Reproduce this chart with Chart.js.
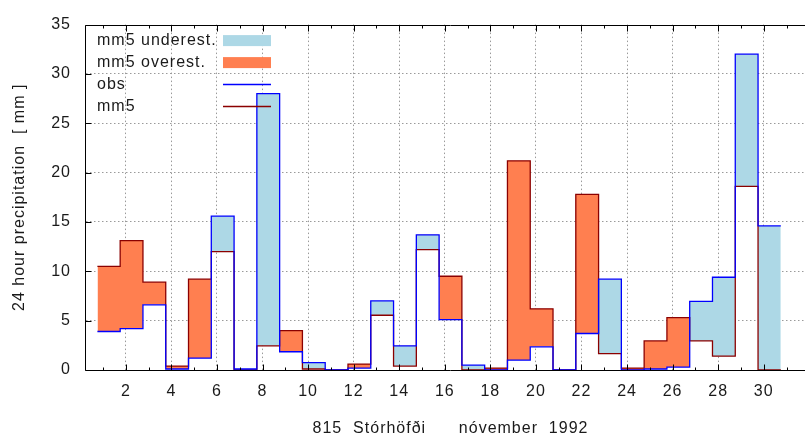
<!DOCTYPE html>
<html>
<head>
<meta charset="utf-8">
<script src="https://cdn.jsdelivr.net/npm/chart.js@4/dist/chart.umd.min.js"></script>
<style>
  html,body{margin:0;padding:0;background:#fff;overflow:hidden;width:805px;height:437px}
  #wrap{width:830px;height:437px}
</style>
</head>
<body>
<div id="wrap"><canvas id="precip" width="830" height="437"></canvas></div>
<script>
/* 24 h precipitation, 815 Stórhöfði, nóvember 1992 — obs vs mm5 */

const days=[1,2,3,4,5,6,7,8,9,10,11,12,13,14,15,16,17,18,19,20,21,22,23,24,25,26,27,28,29,30];
const obs=[3.9,4.2,6.6,0.1,1.2,15.6,0.1,28.0,1.85,0.75,0,0.2,7.0,2.45,13.7,5.1,0.5,0,1.0,2.35,0,3.7,9.2,0,0.1,0.3,6.95,9.4,32.0,14.6];
const mm5=[10.5,13.1,8.9,0.4,9.2,12.0,0,2.45,4.0,0.1,0,0.6,5.55,0.4,12.2,9.5,0,0.2,21.2,6.2,0,17.8,1.65,0.2,2.95,5.3,2.95,1.4,18.6,0];
const xTicks=[2,4,6,8,10,12,14,16,18,20,22,24,26,28,30];
const yTicks=[0,5,10,15,20,25,30,35];
const legendLabels=['mm5 underest.','mm5 overest.','obs','mm5'];

const FONT='"Liberation Sans", Arial, sans-serif';
const C_UNDER='#add8e6', C_OVER='#ff7f50', C_OBS='#0000ff', C_MM5='#8b0000';
const dayStart=-0.25; // each 24h total begins a quarter day before the date tick

// step edges: one point per day start, plus the closing edge of the last day
function steps(vals){
  const pts=days.map((d,i)=>({x:d+dayStart,y:vals[i]}));
  pts.push({x:days[days.length-1]+1+dayStart,y:vals[vals.length-1]});
  return pts;
}

const spacing={id:'spacing',beforeDraw(chart){ chart.ctx.letterSpacing='1px'; }};

// gnuplot-ish frame, inward ticks (mirrored on top), key in upper left
const frame={id:'frame',afterDraw(chart){
  const {ctx,chartArea:a,scales:{x,y}}=chart;
  ctx.save();
  ctx.strokeStyle='#000'; ctx.lineWidth=1;
  const L=Math.round(a.left)-0.5, R=Math.round(a.right)+0.5, T=Math.round(a.top)+0.5, B=Math.round(a.bottom)+0.5;
  ctx.beginPath();
  ctx.moveTo(R,T); ctx.lineTo(L,T); ctx.lineTo(L,B); ctx.lineTo(R,B);
  for(let d=Math.ceil(x.min); d<=x.max; d++){
    const px=Math.round(x.getPixelForValue(d))+0.5, len=xTicks.includes(d)?6:3;
    ctx.moveTo(px,B); ctx.lineTo(px,B-len);
    ctx.moveTo(px,T); ctx.lineTo(px,T+len);
  }
  yTicks.forEach(v=>{
    const py=Math.round(y.getPixelForValue(v))+0.5;
    ctx.moveTo(L,py); ctx.lineTo(L+6,py);
  });
  ctx.stroke();

  ctx.font='16px '+FONT; ctx.textBaseline='middle'; ctx.textAlign='left';
  const fills=[C_UNDER,C_OVER], lines=[C_OBS,C_MM5];
  legendLabels.forEach((t,i)=>{
    const cy=a.top+16+i*22, sx=a.left+137;
    ctx.fillStyle='#1a1a1a'; ctx.fillText(t,a.left+11,cy);
    if(i<2){ ctx.fillStyle=fills[i]; ctx.fillRect(sx,cy-5.5,48,11); }
    else {
      ctx.strokeStyle=lines[i-2]; ctx.lineWidth=1.5;
      ctx.beginPath(); ctx.moveTo(sx,cy); ctx.lineTo(sx+48,cy); ctx.stroke();
    }
  });
  ctx.restore();
}};

new Chart(document.getElementById('precip'),{
  type:'line',
  data:{datasets:[
    {label:'obs',data:steps(obs),borderColor:C_OBS,borderWidth:1.3,stepped:true,pointRadius:0,fill:false},
    {label:'mm5',data:steps(mm5),borderColor:C_MM5,borderWidth:1.3,stepped:true,pointRadius:0,
     fill:{target:0,above:C_OVER,below:C_UNDER}}
  ]},
  options:{
    responsive:false,animation:false,
    layout:{padding:{left:0,right:15,top:13,bottom:0}},
    plugins:{legend:{display:false},tooltip:{enabled:false}},
    scales:{
      x:{type:'linear',min:0.25,max:32.25,
        afterBuildTicks:s=>{s.ticks=xTicks.map(v=>({value:v}));},
        afterFit:s=>{s.height=67;},
        ticks:{padding:12,color:'#1a1a1a',font:{family:FONT,size:16}},
        grid:{drawTicks:false,color:'#9a9a9a',lineWidth:1},
        border:{display:false,dash:[1.5,2.5]},
        title:{display:true,text:'815  Stórhöfði      nóvember  1992',color:'#1a1a1a',
          font:{family:FONT,size:16,lineHeight:1},padding:{top:0,bottom:0}}
      },
      y:{min:0,max:35,
        afterBuildTicks:s=>{s.ticks=yTicks.map(v=>({value:v}));},
        afterFit:s=>{s.width=86;},
        ticks:{padding:15,color:'#1a1a1a',font:{family:FONT,size:16}},
        grid:{drawTicks:false,lineWidth:1,
          color:c=>(c.tick&&(c.tick.value===0||c.tick.value===35))?'rgba(0,0,0,0)':'#9a9a9a'},
        border:{display:false,dash:[1.5,2.5]},
        title:{display:true,text:'24 hour precipitation  [ mm ]',color:'#1a1a1a',
          font:{family:FONT,size:16,lineHeight:1},padding:{top:11.5,bottom:0}}
      }
    }
  },
  plugins:[spacing,frame]
});
</script>
</body>
</html>
